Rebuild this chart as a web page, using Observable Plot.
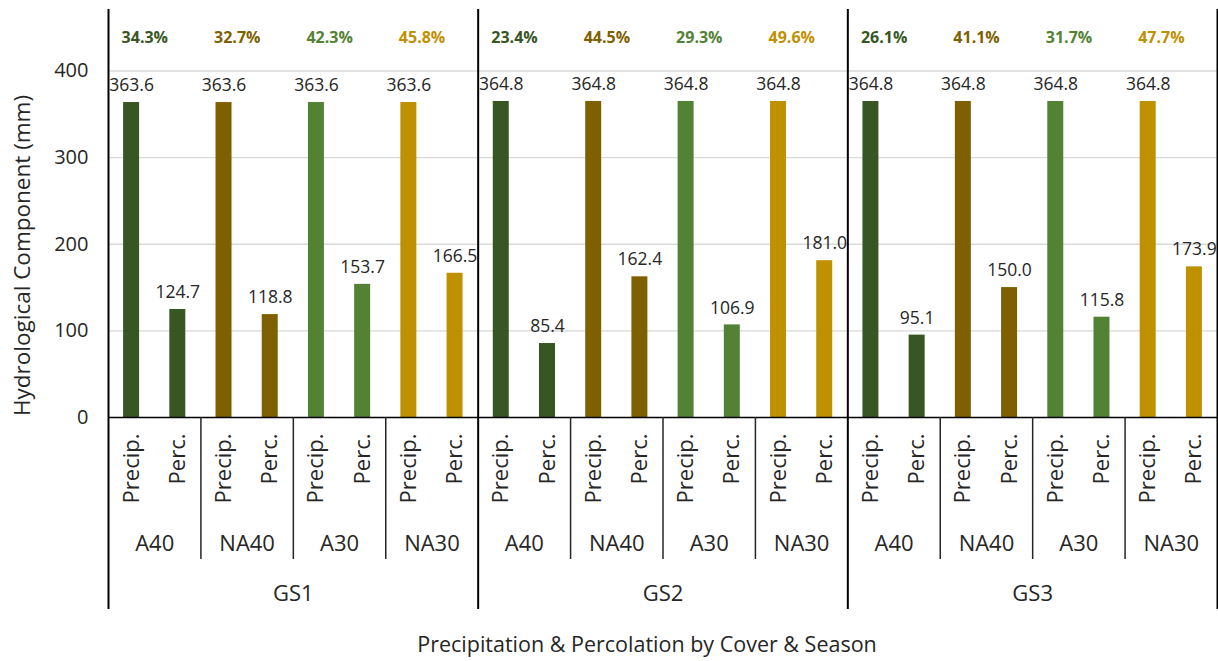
<!DOCTYPE html>
<html>
<head>
<meta charset="utf-8">
<script src="https://cdn.jsdelivr.net/npm/d3@7"></script>
<script src="https://cdn.jsdelivr.net/npm/@observablehq/plot@0.6"></script>
<style>
  html, body { margin: 0; padding: 0; background: #fff; }
  #chart svg { display: block; }
</style>
</head>
<body>
<div id="chart"></div>
<script>
// ---- data ----
const seasons = ["GS1", "GS2", "GS3"];
const covers = ["A40", "NA40", "A30", "NA30"];
const components = ["Precip.", "Perc."];
const coverColors = ["#375623", "#7F6000", "#548235", "#BF9000"];

const precipBySeason = [363.6, 364.8, 364.8];
const percGS1 = [124.7, 118.8, 153.7, 166.5];
const percGS2 = [85.4, 162.4, 106.9, 181.0];
const percGS3 = [95.1, 150.0, 115.8, 173.9];
const percBySeason = [percGS1, percGS2, percGS3];

const ratioGS1 = ["34.3%", "32.7%", "42.3%", "45.8%"];
const ratioGS2 = ["23.4%", "44.5%", "29.3%", "49.6%"];
const ratioGS3 = ["26.1%", "41.1%", "31.7%", "47.7%"];
const ratioBySeason = [ratioGS1, ratioGS2, ratioGS3];

const yTicks = [0, 100, 200, 300, 400];
const yTitle = "Hydrological Component (mm)";
const xTitle = "Precipitation & Percolation by Cover & Season";

// ---- tables built from arrays ----
const bars = [];
const pairs = [];
seasons.forEach((s, si) => {
  covers.forEach((c, ci) => {
    const pi = si * 8 + ci * 2;
    pairs.push({season: s, cover: c, i: pi, ratio: ratioBySeason[si][ci]});
    bars.push({season: s, cover: c, comp: components[0], i: pi, value: precipBySeason[si]});
    bars.push({season: s, cover: c, comp: components[1], i: pi + 1, value: percBySeason[si][ci]});
  });
});
const seasonRows = seasons.map((s, si) => ({season: s, i: si * 8}));
const groupBounds = d3.range(0, seasons.length * 8 + 1, 8);
const pairBounds = d3.range(0, seasons.length * 8, 2).filter(v => v % 8 !== 0);

const half = 0.173;
const ink = "#262626";

const chart = Plot.plot({
  width: 1218,
  height: 661,
  marginLeft: 108,
  marginRight: 1,
  marginTop: 9,
  marginBottom: 244,
  style: {fontFamily: "'Open Sans', sans-serif", fontSize: "18px", color: ink, background: "#fff"},
  x: {domain: [0, seasons.length * 8], axis: null},
  y: {domain: [0, 471], axis: null},
  color: {domain: covers, range: coverColors},
  marks: [
    Plot.ruleY([100, 200, 300, 400], {stroke: "#d9d9d9", strokeWidth: 1.3}),
    Plot.rectY(bars, {x1: d => d.i + 0.5 - half, x2: d => d.i + 0.5 + half, y: "value", fill: "cover"}),
    Plot.text(bars, {x: d => d.i + 0.5, y: "value", text: d => d.value.toFixed(1), dy: -17, fontSize: 17.5, fill: ink}),
    Plot.text(pairs, {x: d => d.i + 0.5 - half, text: "ratio", frameAnchor: "top", lineAnchor: "middle", dy: 28, dx: -2, textAnchor: "start", fill: "cover", fontWeight: "bold", fontSize: 16}),
    Plot.ruleY([0], {stroke: "#000", strokeWidth: 1.5}),
    Plot.ruleX(groupBounds, {stroke: "#000", strokeWidth: 2, insetBottom: -192}),
    Plot.ruleX(pairBounds, {stroke: ink, strokeWidth: 1.5, insetTop: 408, insetBottom: -142}),
    Plot.axisY({ticks: yTicks, tickSize: 0, tickPadding: 20, fontSize: 20, label: null, fill: ink}),
    Plot.text(bars, {x: d => d.i + 0.5, text: "comp", frameAnchor: "bottom", lineAnchor: "middle", dy: 16, rotate: -90, textAnchor: "end", fontSize: 22, fill: ink}),
    Plot.text(pairs, {x: d => d.i + 1, text: "cover", frameAnchor: "bottom", lineAnchor: "middle", dy: 126, fontSize: 22, fill: ink}),
    Plot.text(seasonRows, {x: d => d.i + 4, text: "season", frameAnchor: "bottom", lineAnchor: "middle", dy: 176, fontSize: 22, fill: ink}),
    Plot.text([xTitle], {frameAnchor: "bottom", lineAnchor: "middle", textAnchor: "middle", dy: 228, dx: -16, fontSize: 21.5, fill: ink}),
    Plot.text([yTitle], {frameAnchor: "left", lineAnchor: "middle", textAnchor: "middle", dx: -86, dy: 42, rotate: -90, fontSize: 22.5, fill: ink})
  ]
});
document.getElementById("chart").appendChild(chart);
</script>
</body>
</html>
